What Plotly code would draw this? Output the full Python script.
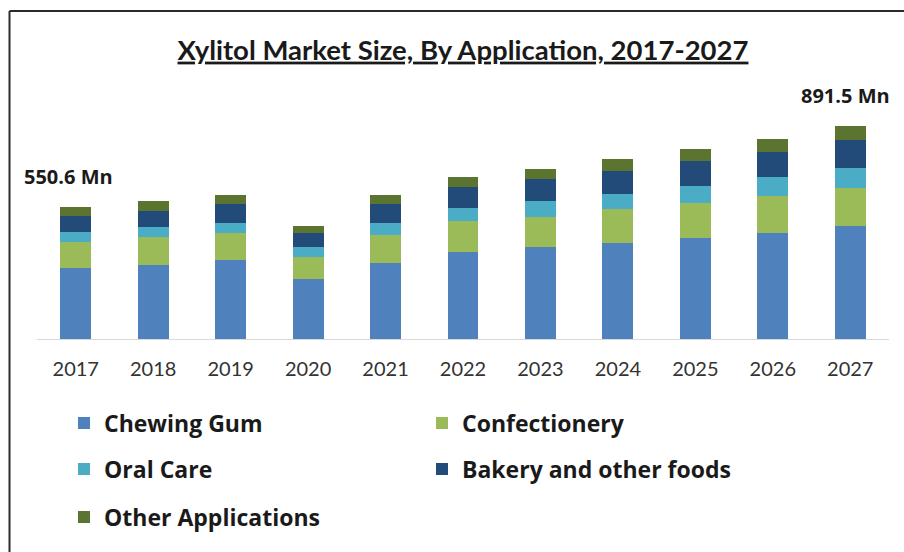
import plotly.graph_objects as go

years = ["2017", "2018", "2019", "2020", "2021", "2022", "2023", "2024", "2025", "2026", "2027"]
chewing_gum = [295.6, 309.4, 329.0, 252.1, 319.0, 365.0, 384.6, 402.6, 421.0, 444.9, 474.0]
confectionery = [108.7, 115.8, 115.4, 90.7, 117.1, 128.4, 126.7, 140.9, 146.3, 153.0, 159.5]
oral_care = [44.3, 41.8, 41.8, 43.1, 50.2, 55.6, 65.6, 64.0, 71.1, 78.2, 81.1]
bakery = [66.9, 69.4, 76.9, 56.0, 76.9, 87.8, 90.7, 93.7, 107.5, 105.8, 119.6]
other_apps = [35.1, 40.6, 37.6, 30.5, 37.6, 39.3, 44.3, 50.2, 48.5, 56.0, 57.3]

series = [
    ("Chewing Gum", chewing_gum, "#4F81BD", "legend"),
    ("Confectionery", confectionery, "#9BBB59", "legend"),
    ("Oral Care", oral_care, "#4BACC6", "legend2"),
    ("Bakery and other foods", bakery, "#234B7A", "legend2"),
    ("Other Applications", other_apps, "#5B7530", "legend3"),
]

FONT = "Open Sans"
fig = go.Figure()
for name, vals, color, lg in series:
    fig.add_trace(go.Bar(x=years, y=vals, name=name, marker=dict(color=color, line=dict(width=0)),
                         legend=lg))

totals = [sum(v) for v in zip(chewing_gum, confectionery, oral_care, bakery, other_apps)]

W, H = 904, 552
L, R, T, B = 37, 15, 100, 213
pw, ph = W - L - R, H - T - B

def px_x(p):
    return (p - L) / pw

def px_y(p):
    return (H - B - p) / ph

legend_common = dict(orientation="h", xanchor="left", yanchor="middle", entrywidth=313,
                     entrywidthmode="pixels", itemwidth=30,
                     font=dict(family=FONT, size=23, color="#1a1a1a", weight="bold"),
                     bgcolor="rgba(0,0,0,0)", traceorder="normal")

fig.update_layout(
    width=W, height=H,
    margin=dict(l=L, r=R, t=T, b=B),
    paper_bgcolor="white", plot_bgcolor="white",
    barmode="stack", bargap=0.6,
    title=dict(text="<u>Xylitol Market Size, By Application, 2017-2027</u>",
               x=463 / W, xanchor="center", xref="container",
               y=1 - 50 / H, yanchor="middle", yref="container",
               font=dict(family="Lato", size=27.5, color="#1a1a1a", weight="bold")),
    xaxis=dict(type="category", range=[-0.5, len(years) - 0.5], showline=True,
               linecolor="#d9d9d9", linewidth=1,
               showgrid=False, zeroline=False, ticks="", ticklabelstandoff=12,
               tickfont=dict(family="Lato", size=20, color="#333333")),
    yaxis=dict(visible=False, range=[0, 1000], showgrid=False, zeroline=False),
    legend=dict(x=px_x(64), y=px_y(423), **legend_common),
    legend2=dict(x=px_x(64), y=px_y(469), **legend_common),
    legend3=dict(x=px_x(64), y=px_y(517), **legend_common),
    showlegend=True,
)

fig.add_annotation(x=0, y=totals[0], xref="x", yref="y", text=f"<b>{totals[0]:.1f} Mn</b>",
                   showarrow=False, xanchor="center", yanchor="middle", xshift=-7, yshift=31,
                   font=dict(family=FONT, size=20, color="#1a1a1a"))
fig.add_annotation(x=len(years) - 1, y=totals[-1], xref="x", yref="y",
                   text=f"<b>{totals[-1]:.1f} Mn</b>",
                   showarrow=False, xanchor="center", yanchor="middle", xshift=-5, yshift=30,
                   font=dict(family=FONT, size=20, color="#1a1a1a"))

# frame lines (top and left)
fig.add_shape(type="line", xref="paper", yref="paper", x0=px_x(9.5), x1=px_x(W + 5),
              y0=px_y(11), y1=px_y(11), line=dict(color="#2b2b2b", width=2))
fig.add_shape(type="line", xref="paper", yref="paper", x0=px_x(9.5), x1=px_x(9.5),
              y0=px_y(11), y1=px_y(H + 5), line=dict(color="#2b2b2b", width=2))

fig.write_html("out.html")
